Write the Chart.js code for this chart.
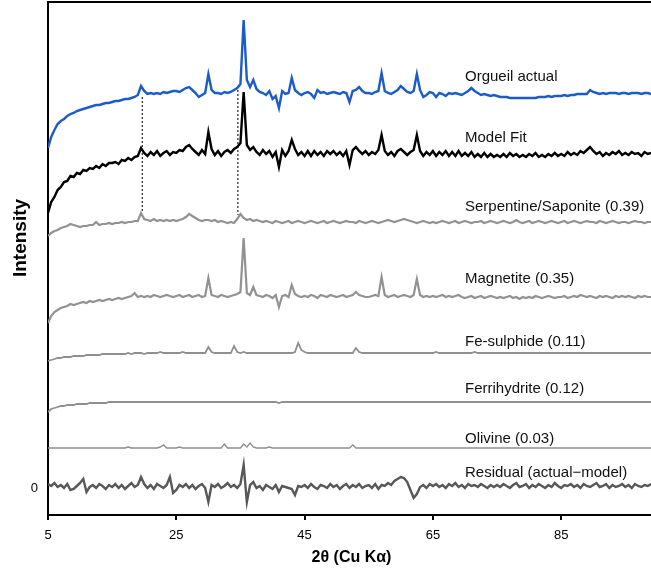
<!DOCTYPE html>
<html>
<head>
<meta charset="utf-8">
<script src="https://cdn.jsdelivr.net/npm/chart.js@4.4.0/dist/chart.umd.min.js"></script>
<style>
  html, body { margin: 0; padding: 0; background: #fff; }
  #box { width: 651px; height: 568px; }
</style>
</head>
<body>
<div id="box"><canvas id="xrdChart"></canvas></div>
<script>
// 2theta grid (deg), 0.5 step
const twoTheta = [
  5,5.5,6,6.5,7,7.5,8,8.5,9,9.5,10,10.5,11,11.5,12,12.5,13,13.5,14,14.5,
  15,15.5,16,16.5,17,17.5,18,18.5,19,19.5,20,20.5,21,21.5,22,22.5,23,23.5,24,24.5,
  25,25.5,26,26.5,27,27.5,28,28.5,29,29.5,30,30.5,31,31.5,32,32.5,33,33.5,34,34.5,
  35,35.5,36,36.5,37,37.5,38,38.5,39,39.5,40,40.5,41,41.5,42,42.5,43,43.5,44,44.5,
  45,45.5,46,46.5,47,47.5,48,48.5,49,49.5,50,50.5,51,51.5,52,52.5,53,53.5,54,54.5,
  55,55.5,56,56.5,57,57.5,58,58.5,59,59.5,60,60.5,61,61.5,62,62.5,63,63.5,64,64.5,
  65,65.5,66,66.5,67,67.5,68,68.5,69,69.5,70,70.5,71,71.5,72,72.5,73,73.5,74,74.5,
  75,75.5,76,76.5,77,77.5,78,78.5,79,79.5,80,80.5,81,81.5,82,82.5,83,83.5,84,84.5,
  85,85.5,86,86.5,87,87.5,88,88.5,89,89.5,90,90.5,91,91.5,92,92.5,93,93.5,94,94.5,
  95,95.5,96,96.5,97,97.5,98,98.5,99
];

// each pattern relative to its own stacking offset
const orgueilActual = [
  -55,-44,-37,-31,-28,-26,-23,-21,-20,-18,-17,-16,-15,-14,-13,-12,-12,-11,-10,-10,
  -9,-8,-8,-7,-6,-6,-5,-4,-2,7,2,-1,0,-1,0,-1,1,0,1,2,
  2,1,3,5,6,3,0,-4,-2,0,19,3,0,0,-1,1,0,1,3,5,
  9,73,13,6,13,4,1,0,-2,2,-6,-3,-15,2,-1,0,15,3,0,-2,
  0,1,-1,-5,3,0,1,-1,0,1,0,-1,1,0,-9,2,3,6,2,0,
  0,-1,1,2,20,2,0,-1,1,3,7,4,1,0,2,19,3,-4,-2,1,
  0,-4,0,-1,-3,0,-1,0,-1,-2,0,2,5,2,0,-2,-1,-2,-3,-2,
  -3,-4,-4,-4,-5,-5,-5,-5,-5,-5,-5,-5,-5,-4,-4,-4,-3,-4,-3,-3,
  -3,-2,-3,-2,-2,-1,-1,-1,-1,3,1,0,-1,0,-1,0,0,0,-1,0,
  0,-1,0,0,0,-1,0,0,-1
];
const modelFit = [
  -60,-49,-44,-37,-34,-29,-28,-23,-24,-20,-21,-17,-18,-15,-16,-13,-15,-11,-13,-10,
  -10,-9,-11,-7,-8,-5,-7,-4,-3,5,0,-3,1,-2,2,-3,0,2,-2,1,
  0,3,2,6,8,4,1,-2,3,-1,21,4,-2,2,-3,1,3,0,4,6,
  10,61,8,3,6,1,-2,3,-1,2,-4,1,-14,3,-3,2,13,4,-2,1,
  -3,2,-3,2,-2,1,-3,2,-1,2,-2,1,-3,2,-12,3,6,2,-1,2,
  -2,1,-1,3,18,2,-2,1,-3,2,4,1,-2,1,3,18,2,-3,1,-2,
  2,-3,1,-2,2,-3,1,-3,2,-3,0,-3,1,-4,-1,-4,0,-4,-1,-4,
  -2,-4,-1,-4,0,-3,-1,-4,-2,-4,-1,-3,0,-4,-2,-4,-1,-3,0,-3,
  -1,-3,1,-2,0,-2,2,0,3,6,2,-1,1,-3,0,-2,1,-1,2,-2,
  0,-2,1,-1,0,-3,1,-1,0
];
const serpentine = [
  -14,-11,-9,-8,-6,-5,-4,-2,-3,-4,-5,-4,-4,-3,-3,0,-3,-2,-2,-1,
  -2,-1,-1,0,-1,0,0,1,1,9,3,2,1,3,1,2,1,2,1,2,
  1,2,3,5,8,6,4,2,1,2,2,1,2,0,1,0,-1,0,-1,3,
  8,4,2,3,1,2,1,0,1,0,-1,1,0,-1,0,1,-1,0,1,0,
  -1,0,1,0,-1,0,1,-1,0,1,0,-1,0,1,0,0,-1,1,0,-1,
  0,1,0,-1,0,1,2,1,0,1,2,3,2,1,0,-1,0,1,0,-1,
  0,-1,0,1,0,-1,0,1,-1,0,1,0,-1,0,0,1,-1,0,1,0,
  -1,0,1,0,-1,0,2,0,-1,0,1,-1,0,1,0,-1,0,1,0,-1,
  0,1,-1,0,1,0,-1,0,1,0,0,-1,1,0,-1,0,1,0,-1,0,
  0,-1,0,1,0,0,-1,0,0
];
const magnetite = [
  -27,-20,-16,-14,-12,-11,-10,-8,-9,-8,-7,-6,-7,-5,-6,-5,-4,-5,-4,-3,
  -4,-3,-2,-3,-2,-1,0,3,-1,0,-1,0,-1,1,0,-1,0,1,0,-1,
  0,1,-1,0,1,-1,0,1,-1,0,18,1,0,-1,1,0,-1,0,1,2,
  4,58,3,1,9,1,0,-1,1,0,-2,1,-11,0,1,-1,11,2,0,-1,
  0,-1,1,0,-2,1,0,-1,1,0,-1,0,1,-1,0,1,4,1,0,-1,
  -1,0,1,0,19,1,-1,0,1,-1,0,1,0,-1,1,17,1,-1,0,-1,
  0,-1,0,1,-1,0,-1,0,1,-1,-2,-1,0,-2,-1,0,-2,-1,0,-1,
  -2,-1,-2,-1,0,-2,-1,-3,-1,-2,-1,-2,0,-1,-2,-1,0,-1,-2,-1,
  -1,0,-2,-1,0,-1,1,0,-1,0,-1,-2,0,-1,0,-1,-2,0,-1,0,
  -1,0,-1,-2,0,-1,0,-1,-1
];
const feSulphide = [
  -8,-7,-6,-5,-5,-4,-4,-4,-3,-3,-3,-3,-2,-2,-2,-2,-2,-1,-1,-1,
  -1,-1,-1,-1,-1,0,-1,0,0,0,-1,0,0,0,0,1,0,0,0,0,
  0,0,1,0,0,0,0,0,0,0,6,1,0,0,0,0,0,0,7,1,
  0,1,0,0,0,0,0,0,0,0,0,0,0,0,0,0,0,1,10,3,
  1,0,0,0,0,0,0,0,0,0,0,0,0,0,0,0,5,1,0,0,
  0,0,0,0,0,0,0,0,0,0,0,0,0,0,0,0,0,0,0,0,
  0,1,0,0,0,0,0,0,0,0,0,0,0,1,0,0,0,0,0,0,
  0,0,0,0,0,0,0,0,0,0,0,0,0,0,0,0,0,0,0,0,
  0,0,0,0,0,0,0,0,0,0,0,0,0,0,0,0,0,0,0,0,
  0,0,0,0,0,0,0,0,0
];
const ferrihydrite = [
  -10,-7,-6,-5,-4,-4,-3,-3,-3,-2,-2,-2,-2,-1,-1,-1,-1,-1,-1,0,
  0,0,0,0,0,0,0,0,0,0,0,0,0,0,0,0,0,0,0,0,
  0,0,0,0,0,0,0,0,0,0,0,0,0,0,0,0,0,0,0,0,
  0,0,0,0,0,0,0,0,0,0,0,0,-1,0,0,0,0,0,0,0,
  0,0,0,0,0,0,0,0,0,0,0,0,0,0,0,0,0,0,0,0,
  0,0,0,0,0,0,0,0,0,0,0,0,0,0,0,0,0,0,0,0,
  0,0,0,0,0,0,0,0,0,0,0,0,0,0,0,0,0,0,0,0,
  0,0,0,0,0,0,0,0,0,0,0,0,0,0,0,0,0,0,0,0,
  0,0,0,0,0,0,0,0,0,0,0,0,0,0,0,0,0,0,0,0,
  0,0,0,0,0,0,0,0,0
];
const olivine = [
  0,0,0,0,0,0,0,0,0,0,0,0,0,0,0,0,0,0,0,0,
  0,0,0,0,0,1,0,0,0,0,0,0,0,0,0,1,3,0,0,0,
  0,1,0,0,0,0,0,0,0,0,0,0,0,0,0,4,0,0,0,0,
  0,4,1,5,1,0,0,0,0,1,0,0,0,0,0,0,0,0,0,0,
  0,0,0,0,0,0,0,0,0,0,0,0,0,0,0,3,0,0,0,0,
  0,0,0,0,0,0,0,0,0,0,0,0,0,0,0,0,0,0,0,0,
  0,0,0,0,0,0,0,0,0,0,0,0,0,0,0,0,0,0,0,0,
  0,0,0,0,0,0,0,0,0,0,0,0,0,0,0,0,0,0,0,0,
  0,0,0,0,0,0,0,0,0,0,0,0,0,0,0,0,0,0,0,0,
  0,0,0,0,0,0,0,0,0
];
const residual = [
  4,2,5,1,3,0,4,-2,-1,2,5,9,-4,1,3,0,4,2,-1,3,
  1,4,0,3,-1,2,5,1,3,11,4,0,3,-1,4,2,0,3,11,-5,
  -2,3,1,4,0,3,-1,2,4,0,-14,3,1,4,0,2,5,1,3,0,
  4,23,-14,3,6,0,2,-2,3,1,-1,3,-4,2,1,0,-1,-7,2,1,
  3,0,4,1,-1,3,2,0,4,1,3,-1,2,4,0,3,1,4,0,2,
  3,0,4,-1,3,2,5,3,7,9,11,10,6,-2,-10,-6,1,3,0,4,
  2,4,1,3,0,4,2,5,1,3,0,4,2,3,1,4,2,0,3,1,
  3,1,4,2,0,3,5,1,2,4,0,3,1,4,2,0,3,1,5,2,
  0,3,2,4,1,3,0,4,2,1,3,5,1,2,4,0,3,1,2,4,
  1,3,0,4,2,1,3,2,4
];

const seriesNames = [
  "Orgueil actual", "Model Fit", "Serpentine/Saponite (0.39)", "Magnetite (0.35)",
  "Fe-sulphide (0.11)", "Ferrihydrite (0.12)", "Olivine (0.03)", "Residual (actual\u2212model)"
];
const seriesValues = [orgueilActual, modelFit, serpentine, magnetite, feSulphide, ferrihydrite, olivine, residual];
const offsets = [395, 335, 266, 192, 135, 86, 40, 0];
const labelAngle = 70;
const labelLevels = [407, 346, 277, 205, 142, 95, 45, 11];

// dotted guides from Orgueil peaks down to serpentine
const guideAngles = [19.7, 34.6];
const guideTop = [391, 398];
const guideBottom = [275, 273];

const xTicks = [5, 25, 45, 65, 85];
const yTicks = [0];

const colors = ["#1c5cc6", "#000000", "#929292", "#929292", "#8f8f8f", "#8f8f8f", "#8f8f8f", "#585858"];
const widths = [2.4, 2.4, 2.2, 2.2, 1.8, 1.8, 1.4, 2.4];

const FONT = "'Liberation Sans', Arial, sans-serif";

let datasets = [];
for (let s = 0; s < seriesValues.length; s++) {
  datasets.push({
    label: seriesNames[s],
    data: twoTheta.map((t, i) => ({ x: t, y: offsets[s] + seriesValues[s][i] })),
    borderColor: colors[s],
    borderWidth: widths[s],
    pointRadius: 0,
    tension: 0,
    fill: false
  });
}
for (let g = 0; g < guideAngles.length; g++) {
  datasets.push({
    label: "guide" + g,
    data: [{ x: guideAngles[g], y: guideTop[g] }, { x: guideAngles[g], y: guideBottom[g] }],
    borderColor: "#222",
    borderWidth: 1.2,
    borderDash: [2, 2],
    pointRadius: 0,
    fill: false
  });
}

const decorPlugin = {
  id: "decor",
  afterDraw(chart) {
    const ctx = chart.ctx;
    const area = chart.chartArea;
    const xs = chart.scales.x;
    const ys = chart.scales.y;
    ctx.save();
    // top frame line
    ctx.strokeStyle = "#000";
    ctx.lineWidth = 2;
    ctx.beginPath();
    ctx.moveTo(area.left - 1, area.top);
    ctx.lineTo(area.right, area.top);
    ctx.stroke();

    // series labels
    ctx.fillStyle = "#111";
    ctx.font = "15px " + FONT;
    ctx.textAlign = "left";
    ctx.textBaseline = "alphabetic";
    for (let s = 0; s < seriesNames.length; s++) {
      ctx.fillText(seriesNames[s], xs.getPixelForValue(labelAngle), ys.getPixelForValue(labelLevels[s]));
    }

    // axis titles
    ctx.fillStyle = "#000";
    ctx.font = "bold 16px " + FONT;
    ctx.textAlign = "center";
    ctx.fillText("2\u03b8 (Cu K\u03b1)", (area.left + area.right) / 2 + 2, 562);

    ctx.translate(21, 238);
    ctx.rotate(-Math.PI / 2);
    ctx.textBaseline = "middle";
    ctx.font = "bold 19px " + FONT;
    ctx.fillText("Intensity", 0, 0);
    ctx.restore();
  }
};

new Chart(document.getElementById("xrdChart"), {
  type: "line",
  data: { datasets: datasets },
  options: {
    responsive: true,
    maintainAspectRatio: false,
    animation: false,
    parsing: false,
    layout: { padding: { top: 2, right: 0, left: 0, bottom: 0 } },
    plugins: { legend: { display: false }, tooltip: { enabled: false } },
    scales: {
      x: {
        type: "linear",
        min: 5,
        max: 99,
        afterFit: s => { s.height = 53; s.paddingLeft = 0; s.paddingRight = 0; },
        afterBuildTicks: s => { s.ticks = xTicks.map(v => ({ value: v })); },
        border: { display: true, color: "#000", width: 2 },
        grid: { drawOnChartArea: false, color: "#000", lineWidth: 2, tickLength: 5 },
        ticks: { color: "#000", font: { family: FONT, size: 13 }, padding: 8, maxRotation: 0 }
      },
      y: {
        type: "linear",
        min: -27,
        max: 486,
        afterFit: s => { s.width = 48; s.paddingTop = 0; s.paddingBottom = 0; },
        afterBuildTicks: s => { s.ticks = yTicks.map(v => ({ value: v })); },
        border: { display: true, color: "#000", width: 2 },
        grid: { drawOnChartArea: false, drawTicks: false },
        ticks: { color: "#000", font: { family: FONT, size: 13 }, padding: 10 }
      }
    }
  },
  plugins: [decorPlugin]
});
</script>
</body>
</html>
